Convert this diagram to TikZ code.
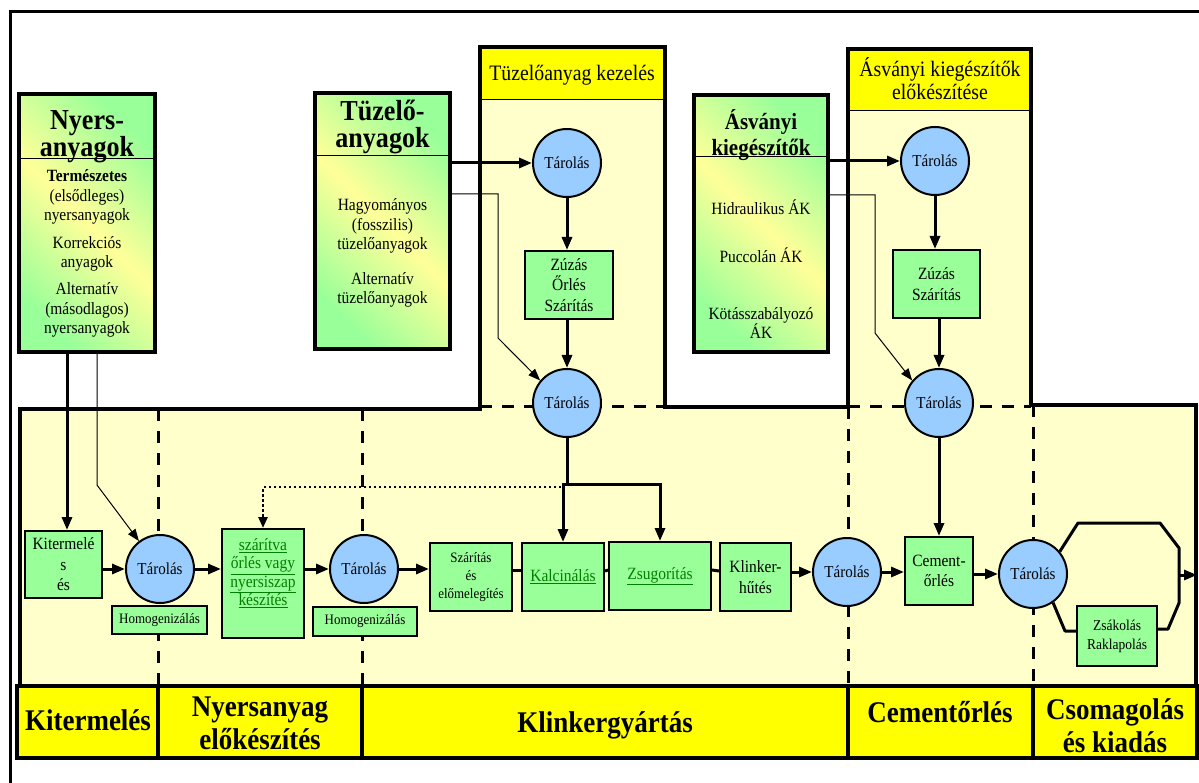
\documentclass[tikz,border=0pt]{standalone}
\usepackage{fontspec}
\setmainfont{Liberation Serif}[FakeStretch=0.9]
\usetikzlibrary{arrows.meta,calc}
\definecolor{bgy}{HTML}{FFFFCC}
\definecolor{hy}{HTML}{FFFF00}
\definecolor{gb}{HTML}{99FF99}
\definecolor{cb}{HTML}{99CCFF}
\definecolor{gy}{HTML}{FFFF99}
\definecolor{tg}{HTML}{008000}
\newcommand{\myfs}[2]{\fontsize{#1}{#2}\selectfont}
\begin{document}
\begin{tikzpicture}[x=1pt,y=-1pt,
 tar/.style={circle,draw,line width=2pt,fill=cb,minimum size=68pt,inner sep=0pt,font=\myfs{16.7}{18}},
 gbox/.style={draw,line width=2pt,fill=gb,inner sep=0pt,align=center,font=\myfs{17.2}{20.5}},
 side/.style={draw,line width=4pt,top color=gb,bottom color=gb,middle color=gy,shading angle=-45,inner sep=0pt},
 txt/.style={align=center,inner sep=0pt,font=\myfs{17.2}{19.5}},
 ttl/.style={align=center,inner sep=0pt,font=\bfseries\myfs{29}{27}},
 arr/.style={line width=3pt,-{Triangle[length=13pt,width=10pt]}},
 tarr/.style={line width=1pt,-{Triangle[length=12pt,width=9pt]}},
 dl/.style={line width=3pt,dash pattern=on 12pt off 10pt},
 frame/.style={line width=3.5pt},
 bandtxt/.style={align=center,inner sep=0pt,font=\bfseries\myfs{30}{33}},
 hdr/.style={align=center,inner sep=0pt,font=\myfs{22}{23}},
 link/.style={line width=3pt}
]
\useasboundingbox (0,0) rectangle (1199,783);
% outer frame
\draw[line width=3pt] (10,783) -- (10,12) -- (1199,12);
% background areas
\fill[bgy] (20,686) -- (20,409) -- (480,409) -- (480,47) -- (665,47) -- (665,407) -- (848,407) -- (848,49) -- (1031,49) -- (1031,405) -- (1196,405) -- (1196,686) -- cycle;
\fill[hy] (480,47) rectangle (665,100);
\fill[hy] (848,49) rectangle (1031,111);
\draw[line width=1pt] (480,100) -- (665,100);
\draw[line width=1pt] (848,111) -- (1031,111);
% dashed separators
\draw[dl] (158,409) -- (158,686);
\draw[dl] (362,409) -- (362,686);
\draw[dl] (848,407) -- (848,686);
\draw[dl] (1033,405) -- (1033,686);
\draw[dl] (480,406) -- (665,406);
\draw[dl] (848,406) -- (1031,406);
% outline
\draw[frame,line join=miter] (20,686) -- (20,409) -- (480,409) -- (480,47) -- (665,47) -- (665,407) -- (848,407) -- (848,49) -- (1031,49) -- (1031,405) -- (1196,405) -- (1196,686);
% headers
\node[hdr] (hf) at (572,75) {Tüzelőanyag kezelés};
\node[hdr] (ha) at (940,79) {Ásványi kiegészítők\\előkészítése};
% bottom band
\draw[frame,fill=hy] (17,686) rectangle (1197,758);
\draw[frame] (158,686) -- (158,758);
\draw[frame] (362,686) -- (362,758);
\draw[frame] (848,686) -- (848,758);
\draw[frame] (1033,686) -- (1033,758);
\node[bandtxt] (b1) at (88,720) {Kitermelés};
\node[bandtxt] (b2) at (260,723) {Nyersanyag\\előkészítés};
\node[bandtxt] (b3) at (605,725) {Klinkergyártás};
\node[bandtxt] (b4) at (940,712) {Cementőrlés};
\node[bandtxt] (b5) at (1115,726) {Csomagolás\\és kiadás};
% side boxes
\node[side,minimum width=136pt,minimum height=258pt] (nyers) at (87,223) {};
\draw[line width=1pt] (nyers.west |- 0,159) -- (nyers.east |- 0,159);
\node[ttl] (nyT) at (87,137) {Nyers-\\anyagok};
\node[txt] (ny1) at (87,197) {\textbf{Természetes}\\(elsődleges)\\nyersanyagok};
\node[txt] (ny2) at (87,254) {Korrekciós\\anyagok};
\node[txt] (ny3) at (87,310) {Alternatív\\(másodlagos)\\nyersanyagok};

\node[side,minimum width=135pt,minimum height=256pt] (tuz) at (382.5,221) {};
\draw[line width=1pt] (tuz.west |- 0,156) -- (tuz.east |- 0,156);
\node[ttl] (tuzT) at (382.5,127) {Tüzelő-\\anyagok};
\node[txt] (tu1) at (382.5,226) {Hagyományos\\(fosszilis)\\tüzelőanyagok};
\node[txt] (tu2) at (382.5,290) {Alternatív\\tüzelőanyagok};

\node[side,minimum width=134pt,minimum height=257pt] (asv) at (761,223.5) {};
\draw[line width=1pt] (asv.west |- 0,157) -- (asv.east |- 0,157);
\node[ttl,font=\bfseries\myfs{23.3}{26}] (asT) at (761,135) {Ásványi\\kiegészítők};
\node[txt] (as1) at (761,207) {Hidraulikus ÁK};
\node[txt] (as2) at (761,255) {Puccolán ÁK};
\node[txt,font=\myfs{17.2}{18}] (as3) at (761,323) {Kötásszabályozó\\ÁK};
% fuel handling
\node[tar] (f1) at (567,163) {Tárolás};
\node[gbox,minimum width=88pt,minimum height=68pt] (zsf) at (569,285) {Zúzás\\Őrlés\\Szárítás};
\node[tar] (f2) at (567,403) {Tárolás};
% mineral additives
\node[tar] (a1) at (935,161) {Tárolás};
\node[gbox,minimum width=87pt,minimum height=68pt] (zsa) at (936.5,284) {Zúzás\\Szárítás};
\node[tar] (a2) at (939,403) {Tárolás};
% lower row
\node[gbox,minimum width=77pt,minimum height=67pt] (kit) at (63.5,564.5) {Kitermelé\\s\\és};
\node[tar] (t1) at (160,569) {Tárolás};
\node[gbox,minimum width=95pt,minimum height=28pt,font=\myfs{14.4}{15}] (hom1) at (159.5,620) {Homogenizálás};
\node[gbox,minimum width=82pt,minimum height=109pt] (sz) at (263,583.5) {};
\node[txt,text=tg,font=\myfs{17.2}{18.5}] (szT) at (263,573) {\underline{szárítva}\\\underline{őrlés vagy}\\\underline{nyersiszap}\\\underline{készítés}};
\node[tar] (t2) at (364,569) {Tárolás};
\node[gbox,minimum width=104pt,minimum height=29pt,font=\myfs{14.4}{15}] (hom2) at (365,621.5) {Homogenizálás};
\node[gbox,minimum width=82pt,minimum height=68pt,font=\myfs{14.4}{18}] (sze) at (471,577) {Szárítás\\és\\előmelegítés};
\node[gbox,minimum width=82pt,minimum height=68pt,text=tg] (kal) at (563,577) {\underline{Kalcinálás}};
\node[gbox,minimum width=102pt,minimum height=68pt,text=tg] (zsu) at (660,576) {\underline{Zsugorítás}};
\node[gbox,minimum width=71pt,minimum height=68pt] (klh) at (755.5,577) {Klinker-\\hűtés};
\node[tar] (t3) at (847,572) {Tárolás};
\node[gbox,minimum width=68pt,minimum height=68pt] (cem) at (939,571) {Cement-\\őrlés};
\node[tar] (t4) at (1033,574) {Tárolás};
\node[gbox,minimum width=80pt,minimum height=60pt,font=\myfs{15}{19}] (zsak) at (1117,636) {Zsákolás\\Raklapolás};
\coordinate (br) at (567,484);
\coordinate (dt) at (561,487);
\coordinate (ex) at (1197,575);
% connectors upper
\draw[arr] (tuz.east |- f1.west) -- (f1.west);
\draw[tarr] ([yshift=27pt]tuz.east) -- ++(46,0) -- ++(0,144) -- (f2.140);
\draw[arr] (f1.south) -- (f1.south |- zsf.north);
\draw[arr] (f2.north |- zsf.south) -- (f2.north);
\draw[arr] (asv.east |- a1.west) -- (a1.west);
\draw[tarr] ([yshift=28.5pt]asv.east) -- ++(45,0) -- ++(0,138) -- (a2.140);
\draw[arr] (a1.south) -- (a1.south |- zsa.north);
\draw[arr] (a2.north |- zsa.south) -- (a2.north);
\draw[arr] ([xshift=-20pt]nyers.south) -- ([xshift=3.5pt]kit.north);
\draw[tarr] ([xshift=10pt]nyers.south) -- ++(0,131) -- (t1.127);
% connectors lower
\draw[arr] (t1.west -| kit.east) -- (t1.west);
\draw[arr] (t1.east) -- (t1.east -| sz.west);
\draw[arr] (t2.west -| sz.east) -- (t2.west);
\draw[arr] (t2.east) -- (t2.east -| sze.west);
\draw[link] ([yshift=7pt]sze.east) -- ([yshift=7pt]kal.west);
\draw[link] ([yshift=6pt]kal.east) -- ([yshift=6pt]zsu.west);
\draw[link] ([yshift=6pt]zsu.east) -- ([yshift=6pt]klh.west);
\draw[arr] (t3.west -| klh.east) -- (t3.west);
\draw[arr] (t3.east) -- (t3.east -| cem.west);
\draw[arr] (t4.west -| cem.east) -- (t4.west);
\draw[arr] (f2.south) -- (br) -| (kal.north);
\draw[arr] (br) -| (zsu.north);
\draw[line width=2.5pt,dash pattern=on 2.5pt off 2.5pt,-{Triangle[length=11pt,width=9pt]}] (dt) -| (sz.north);
\draw[arr] (a2.south) -- (cem.north);
\draw[link,line join=round] (t4.40) -- (1078,523) -- (1160,523) -- (1179,548) -- (1179,603) -- (1168,629) -- ([yshift=7pt]zsak.east);
\draw[link,line join=round] (t4.-55) -- (1065,631) -- ([yshift=5pt]zsak.west);
\draw[arr] (1179,575) -- (ex);
\end{tikzpicture}
\end{document}
